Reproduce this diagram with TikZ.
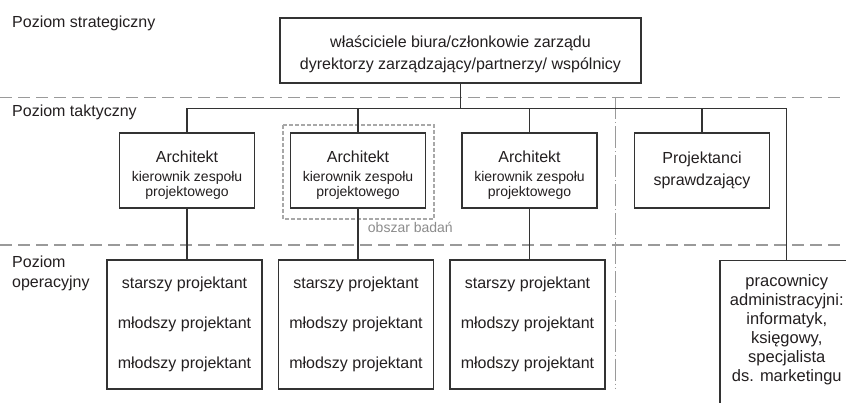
\documentclass[tikz,border=0pt]{standalone}
\usepackage{fontspec}
\setmainfont{Liberation Sans}
\usetikzlibrary{calc}
\definecolor{ink}{HTML}{231F20}
\definecolor{linec}{HTML}{333333}
\definecolor{sepc}{HTML}{9A9A9A}
\definecolor{studyc}{HTML}{A8A8A8}
\definecolor{notec}{HTML}{8C8C8C}
\newcommand{\lowerby}[1]{\rule{0pt}{#1}}
\begin{document}
\begin{tikzpicture}[x=1pt,y=-1pt,
  box/.style={draw=linec, line width=1.5pt, fill=white, inner sep=0pt, align=center, text=ink},
  topbox/.style={box, font=\fontsize{16}{22}\selectfont, minimum width=361pt, minimum height=65pt},
  archbox/.style={box, font=\fontsize{14}{15.5}\selectfont, minimum width=135pt, minimum height=75pt},
  checkbox/.style={box, font=\fontsize{16}{22}\selectfont, minimum width=135pt, minimum height=75pt},
  opbox/.style={box, font=\fontsize{16}{40}\selectfont, minimum width=155pt, minimum height=129pt},
  admbox/.style={box, font=\fontsize{16.5}{19}\selectfont, minimum width=134pt, minimum height=150pt, text depth=15pt},
  lvl/.style={inner sep=0pt, text=ink, font=\fontsize{16}{20}\selectfont},
  note/.style={inner sep=0pt, text=notec, font=\fontsize{14}{16}\selectfont},
  conn/.style={draw=linec, line width=1.3pt},
  sep/.style={draw=sepc, line width=1.2pt, dash pattern=on 12pt off 6pt},
  vsep/.style={draw=sepc, line width=1pt, dash pattern=on 22pt off 3pt on 1pt off 3pt},
  study/.style={draw=studyc, line width=1.8pt, dash pattern=on 3.5pt off 2.5pt}
]
\useasboundingbox (0,0) rectangle (846,403);
\clip (0,0) rectangle (846,403);
\fill[white] (0,0) rectangle (846,403);

% level separators
\draw[sep] (0,97.5) -- (846,97.5);
\draw[sep] (0,245) -- (846,245);
\draw[vsep] (615,97.5) -- (615,388);

% level labels
\node[lvl, anchor=base west] (ls) at (12,28) {Poziom strategiczny};
\node[lvl, anchor=base west] (lt) at (12,116.5) {Poziom taktyczny};
\node[lvl, anchor=north west, align=left] (lo) at (12,255.5) {Poziom\\operacyjny};

% strategic
\node[topbox] (top) at (460.5,50.5) {\lowerby{19pt}właściciele biura/członkowie zarządu\\dyrektorzy zarządzający/partnerzy/ wspólnicy};

% tactical
\node[archbox] (a1) at (187,170.5) {\lowerby{21.5pt}{\fontsize{16}{19}\selectfont Architekt}\\[3pt]kierownik zespołu\\projektowego};
\node[archbox] (a2) at (358,170.5) {\lowerby{21.5pt}{\fontsize{16}{19}\selectfont Architekt}\\[3pt]kierownik zespołu\\projektowego};
\node[archbox] (a3) at (529.5,170.5) {\lowerby{21.5pt}{\fontsize{16}{19}\selectfont Architekt}\\[3pt]kierownik zespołu\\projektowego};
\node[checkbox] (pr) at (702,170.5) {Projektanci\\sprawdzający};

% study area
\draw[study] ($(a2.north west)+(-7,-7)$) rectangle ($(a2.south east)+(8,10)$);
\node[note, anchor=base east] (obs) at (453,233) {obszar badań};

% operational
\node[opbox] (o1) at (184.5,324.5) {starszy projektant\\młodszy projektant\\młodszy projektant};
\node[opbox] (o2) at (356,324.5) {starszy projektant\\młodszy projektant\\młodszy projektant};
\node[opbox] (o3) at (527.5,324.5) {starszy projektant\\młodszy projektant\\młodszy projektant};
\node[admbox, anchor=north west] (adm) at (719,260) {pracownicy\\administracyjni:\\informatyk,\\księgowy,\\specjalista\\ds. marketingu};

% connectors
\coordinate (bus) at (0,108.5);
\draw[conn] (top.south) -- (top.south |- bus);
\draw[conn] (a1.north) -- (a1.north |- bus) -- (bus -| adm.north) -- (adm.north);
\draw[conn] (a2.north) -- (a2.north |- bus);
\draw[conn] (a3.north) -- (a3.north |- bus);
\draw[conn] (pr.north) -- (pr.north |- bus);
\draw[conn] (a1.south) -- (a1.south |- o1.north);
\draw[conn] (a2.south) -- (a2.south |- o2.north);
\draw[conn] (a3.south) -- (a3.south |- o3.north);
\end{tikzpicture}
\end{document}
